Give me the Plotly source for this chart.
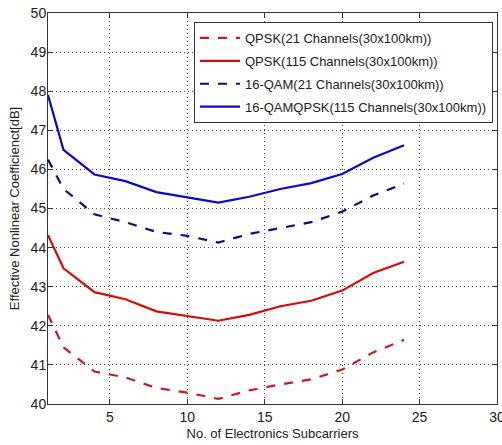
import plotly.graph_objects as go

x_vals = [1, 2, 4, 6, 8, 10, 12, 14, 16, 18, 20, 22, 24]
qpsk_21 = [42.28, 41.45, 40.83, 40.68, 40.41, 40.29, 40.13, 40.35, 40.5, 40.63, 40.88, 41.32, 41.64]
qpsk_115 = [44.32, 43.47, 42.86, 42.68, 42.37, 42.25, 42.13, 42.28, 42.5, 42.64, 42.9, 43.35, 43.64]
qam_21 = [46.25, 45.5, 44.85, 44.65, 44.4, 44.3, 44.13, 44.35, 44.5, 44.65, 44.92, 45.33, 45.64]
qam_115 = [47.9, 46.5, 45.87, 45.7, 45.42, 45.28, 45.15, 45.3, 45.5, 45.65, 45.88, 46.3, 46.62]

names = ["QPSK(21 Channels(30x100km))", "QPSK(115 Channels(30x100km))",
         "16-QAM(21 Channels(30x100km))", "16-QAMQPSK(115 Channels(30x100km))"]
series = [qpsk_21, qpsk_115, qam_21, qam_115]
colors = ["rgb(205,25,25)", "rgb(215,10,10)", "rgb(10,10,140)", "rgb(10,10,200)"]
dashes = ["dash", "solid", "dash", "solid"]

x_ticks = [5, 10, 15, 20, 25, 30]
y_ticks = [40, 41, 42, 43, 44, 45, 46, 47, 48, 49, 50]

fig = go.Figure()
for i, (n, s, c, d) in enumerate(zip(names, series, colors, dashes)):
    fig.add_trace(go.Scatter(x=x_vals, y=s, mode="lines", name=n, legendgroup=f"g{i}",
                             line=dict(color=c, width=2.2, dash=d)))

font = dict(family="Liberation Sans, Arial, sans-serif", size=13, color="#222")
tickfont = dict(family="Liberation Sans, Arial, sans-serif", size=14, color="#222")
axis_common = dict(showline=True, linecolor="#333", linewidth=1, mirror="ticks",
                   ticks="inside", ticklen=5, tickcolor="#333",
                   showgrid=True, gridcolor="#444", griddash="1px,3px", gridwidth=1,
                   zeroline=False, tickfont=tickfont, automargin=False,
                   ticklabeloverflow="allow")
fig.update_xaxes(range=[1, 30], tickvals=x_ticks, ticktext=[str(v) for v in x_ticks],
                 title=dict(text="No. of Electronics Subcarriers", font=font, standoff=5),
                 **axis_common)
fig.update_yaxes(range=[40, 50], tickvals=y_ticks, ticktext=[str(v) for v in y_ticks],
                 ticklabelstandoff=-2,
                 title=dict(text="Effective Nonlinear Coefficienct[dB]", font=font, standoff=8),
                 **axis_common)
fig.update_layout(width=502, height=445, margin=dict(l=48, r=5, t=13, b=41),
                  paper_bgcolor="white", plot_bgcolor="white", font=font,
                  legend=dict(x=0.991, y=0.977, xanchor="right", yanchor="top",
                              bgcolor="white", bordercolor="#333", borderwidth=1,
                              font=dict(family="Liberation Sans, Arial, sans-serif", size=13, color="#222"),
                              tracegroupgap=3, itemwidth=40))
fig.write_html("out.html", config={"displayModeBar": False},
               post_script="document.body.style.margin='0';")
